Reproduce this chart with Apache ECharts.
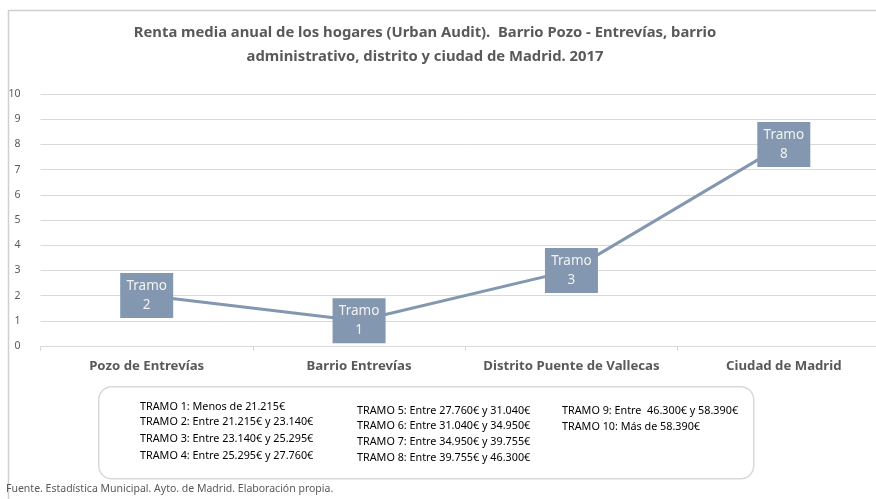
<!DOCTYPE html>
<html><head><meta charset="utf-8">
<script src="https://cdn.jsdelivr.net/npm/echarts@6/dist/echarts.min.js"></script>
<style>html,body{margin:0;padding:0;background:#fff;overflow:hidden}#c{width:890px;height:499px}</style>
</head><body><div id="c"></div>
<script>
const titleText = "Renta media anual de los hogares (Urban Audit).  Barrio Pozo - Entrevías, barrio\nadministrativo, distrito y ciudad de Madrid. 2017";
const categories = ["Pozo de Entrevías", "Barrio Entrevías", "Distrito Puente de Vallecas", "Ciudad de Madrid"];
const tramos = [2, 1, 3, 8];
const yTicks = [0, 1, 2, 3, 4, 5, 6, 7, 8, 9, 10];
const legendCol1 = ["TRAMO 1: Menos de 21.215€", "TRAMO 2: Entre 21.215€ y 23.140€", "TRAMO 3: Entre 23.140€ y 25.295€", "TRAMO 4: Entre 25.295€ y 27.760€"];
const legendCol2 = ["TRAMO 5: Entre 27.760€ y 31.040€", "TRAMO 6: Entre 31.040€ y 34.950€", "TRAMO 7: Entre 34.950€ y 39.755€", "TRAMO 8: Entre 39.755€ y 46.300€"];
const legendCol3 = ["TRAMO 9: Entre  46.300€ y 58.390€", "TRAMO 10: Más de 58.390€"];
const sourceText = "Fuente. Estadística Municipal. Ayto. de Madrid. Elaboración propia.";

const FONT = "Noto Sans";
const chart = echarts.init(document.getElementById('c'), null, {renderer: 'canvas'});

function colText(lines, x, ys) {
  return lines.map((t, i) => ({
    type: 'text', left: x, top: ys[i],
    style: {text: t, fontFamily: FONT, fontSize: 10.8, fill: '#000'}
  }));
}

const option = {
  backgroundColor: '#fff',
  title: {
    text: titleText, left: 420, top: 16, textAlign: 'center',
    textStyle: {fontFamily: FONT, fontSize: 14.8, fontWeight: 'bold', color: '#595959', lineHeight: 24}
  },
  grid: {left: 40.5, right: 0, top: 94, bottom: 153},
  xAxis: {
    type: 'category', data: categories, boundaryGap: true,
    axisLine: {lineStyle: {color: '#d9d9d9'}},
    axisTick: {show: true, length: 5, lineStyle: {color: '#d9d9d9'}},
    axisLabel: {interval: 0, fontFamily: FONT, fontSize: 13.2, fontWeight: 'bold', color: '#595959', margin: 14}
  },
  yAxis: {
    type: 'value', min: yTicks[0], max: yTicks[yTicks.length - 1], interval: 1,
    axisLine: {show: false}, axisTick: {show: false},
    splitLine: {lineStyle: {color: '#d9d9d9'}},
    axisLabel: {fontFamily: FONT, fontSize: 10.5, color: '#595959', margin: 20}
  },
  series: [{
    type: 'line', data: tramos, symbol: 'circle', symbolSize: 1, showSymbol: true, silent: true,
    itemStyle: {color: '#8497B0'},
    lineStyle: {color: '#8497B0', width: 3},
    labelLayout: {hideOverlap: false},
    label: {
      show: true, position: 'inside',
      formatter: p => 'Tramo\n' + p.value,
      backgroundColor: '#8497B0', color: '#F2F2F2',
      fontFamily: FONT, fontSize: 13.5, lineHeight: 19,
      width: 41, align: 'center', verticalAlign: 'middle', padding: [3, 6, 4, 6]
    }
  }],
  graphic: [
    {type: 'rect', left: 6, top: 8, shape: {width: 900, height: 520},
     style: {fill: 'none', stroke: '#d0d0d0', lineWidth: 1.5}, z: -10},
    {type: 'rect', left: 98, top: 386, shape: {width: 655, height: 92, r: 13},
     style: {fill: '#fff', stroke: '#d9d9d9', lineWidth: 1.5}},
    ...colText(legendCol1, 140, [401, 416, 433, 450]),
    ...colText(legendCol2, 357, [405, 420, 436, 452]),
    ...colText(legendCol3, 562, [405, 421]),
    {type: 'text', left: 6, top: 484,
     style: {text: sourceText, fontFamily: FONT, fontSize: 10.5, fill: '#595959'}}
  ]
};
chart.setOption(option);
</script></body></html>
